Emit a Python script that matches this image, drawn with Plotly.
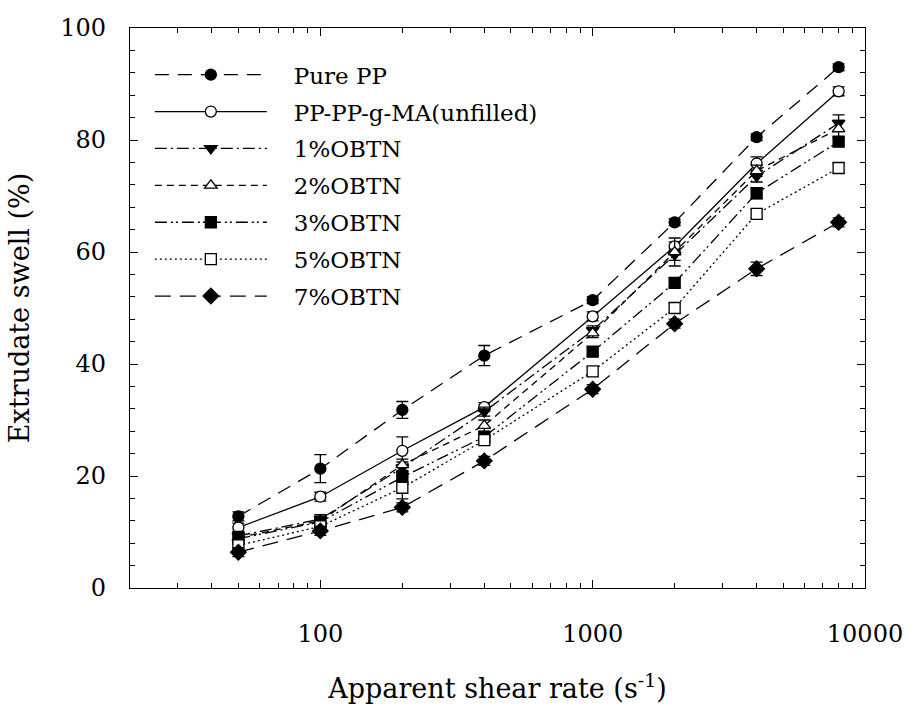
import plotly.graph_objects as go

shear_rate = [50, 100, 200, 400, 1000, 2000, 4000, 8000]

pure_pp   = [12.8, 21.3, 31.8, 41.5, 51.4, 65.3, 80.5, 93.0]
pp_g_ma   = [10.8, 16.3, 24.5, 32.3, 48.5, 61.0, 75.8, 88.7]
obtn_1    = [9.3, 12.3, 21.5, 31.5, 46.0, 59.5, 73.5, 83.0]
obtn_2    = [9.0, 12.0, 22.0, 29.0, 45.5, 60.0, 74.5, 82.0]
obtn_3    = [8.8, 11.8, 19.8, 27.0, 42.2, 54.5, 70.5, 79.7]
obtn_5    = [7.6, 11.0, 17.9, 26.4, 38.7, 50.0, 66.8, 75.0]
obtn_7    = [6.4, 10.2, 14.4, 22.7, 35.5, 47.2, 57.0, 65.3]

err_pure_pp = [0.8, 2.5, 1.5, 1.8, 0.6, 0.6, 0.6, 0.6]
err_pp_g_ma = [0.8, 0.8, 2.5, 0.8, 0.8, 0.8, 1.2, 0.8]
err_obtn_1  = [0.8, 0.8, 1.0, 0.8, 0.8, 1.0, 1.0, 1.5]
err_obtn_2  = [0.8, 0.8, 1.0, 1.0, 0.8, 2.5, 1.0, 1.5]
err_obtn_3  = [0.8, 0.8, 1.0, 0.8, 0.8, 0.8, 1.0, 0.8]
err_obtn_5  = [0.8, 0.8, 2.0, 0.8, 0.8, 0.8, 0.8, 0.8]
err_obtn_7  = [0.8, 0.8, 0.8, 0.8, 0.8, 0.8, 1.2, 0.8]

names = ["Pure PP", "PP-PP-g-MA(unfilled)", "1%OBTN", "2%OBTN", "3%OBTN", "5%OBTN", "7%OBTN"]
series = [pure_pp, pp_g_ma, obtn_1, obtn_2, obtn_3, obtn_5, obtn_7]
errors = [err_pure_pp, err_pp_g_ma, err_obtn_1, err_obtn_2, err_obtn_3, err_obtn_5, err_obtn_7]
symbols = ["circle", "circle-open", "triangle-down", "triangle-up-open", "square", "square-open", "diamond"]
dashes = ["14px,9px", "solid", "12px,4px,2px,4px", "7px,5px", "12px,4px,2px,3px,2px,4px", "2px,3px", "16px,9px"]

fig = go.Figure()
for i, (nm, ys, er, sym, dsh) in enumerate(zip(names, series, errors, symbols, dashes)):
    is_open = sym.endswith("-open")
    fig.add_trace(go.Scatter(
        x=shear_rate, y=ys, name="\u00a0\u00a0\u00a0" + nm, mode="lines+markers",
        legendgroup=f"g{i}",
        line=dict(color="black", width=1.3, dash=dsh),
        marker=dict(symbol=sym.replace("-open", ""), size=11 if "diamond" not in sym else 12,
                    color="white" if is_open else "black",
                    line=dict(color="black", width=1.3)),
        error_y=dict(type="data", array=er, visible=True, color="black", thickness=1.3, width=6),
    ))

font_family = "DejaVu Serif"
fig.update_layout(
    width=915, height=717,
    margin=dict(l=130, r=44, t=28, b=129),
    paper_bgcolor="white", plot_bgcolor="white",
    font=dict(family=font_family, color="black", size=24),
    showlegend=True,
    legend=dict(x=0.027, y=0.955, xanchor="left", yanchor="top",
                bgcolor="rgba(0,0,0,0)", borderwidth=0,
                font=dict(family=font_family, size=23, color="black"),
                itemwidth=112, tracegroupgap=4),
    xaxis=dict(type="log", range=[1.30103, 4.0], showgrid=False, zeroline=False,
               showline=True, linecolor="black", linewidth=1.3, mirror="allticks",
               ticks="inside", ticklen=8, tickcolor="black", tickwidth=1.2,
               tickvals=[100, 1000, 10000], ticktext=["100", "1000", "10000"],
               ticklabelstandoff=24, tickfont=dict(size=24),
               minor=dict(ticks="inside", ticklen=5, tickcolor="black", tickwidth=1.2,
                          tickvals=[20, 30, 40, 50, 60, 70, 80, 90, 200, 300, 400, 500, 600, 700, 800, 900,
                                    2000, 3000, 4000, 5000, 6000, 7000, 8000, 9000], showgrid=False),
               title=dict(text="Apparent shear rate (s<sup>-1</sup>)", standoff=32,
                          font=dict(family=font_family, size=27))),
    yaxis=dict(range=[0, 100], dtick=20, showgrid=False, zeroline=False,
               showline=True, linecolor="black", linewidth=1.3, mirror="allticks",
               ticks="inside", ticklen=8, tickcolor="black", tickwidth=1.2,
               ticklabelstandoff=18, tickfont=dict(size=24),
               minor=dict(ticks="inside", ticklen=5, dtick=4, tickcolor="black", tickwidth=1.2, showgrid=False),
               title=dict(text="Extrudate swell (%)", standoff=22,
                          font=dict(family=font_family, size=27))),
)

fig.write_html("out.html")
